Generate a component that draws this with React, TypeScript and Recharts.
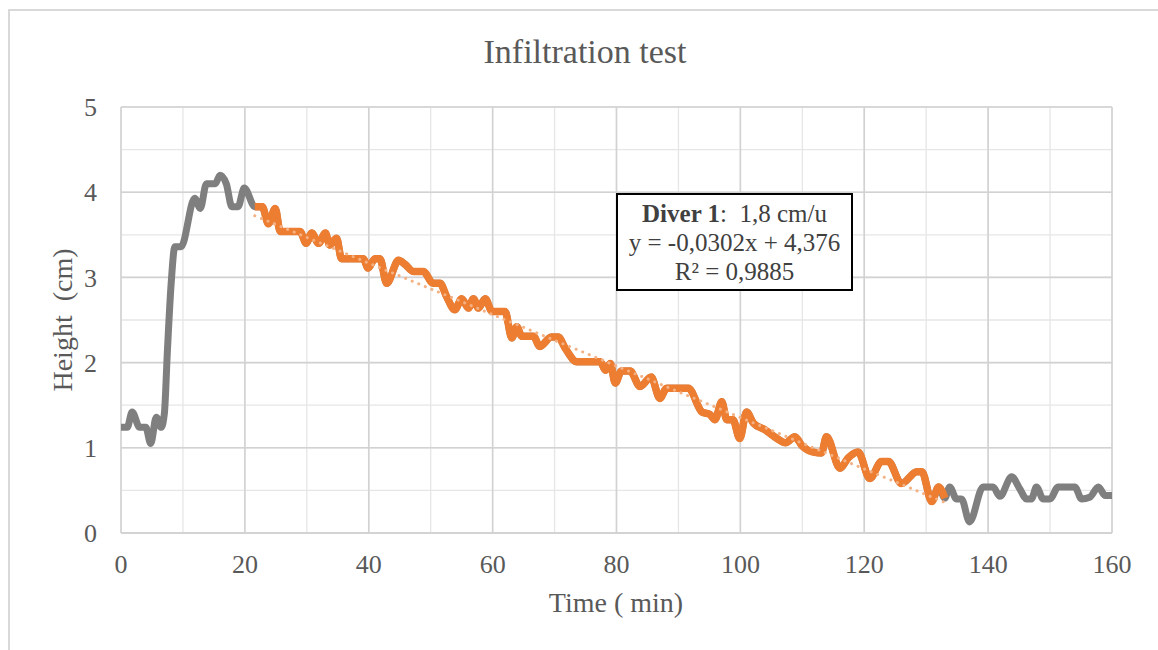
import React from "react";
import { LineChart, Line, XAxis, YAxis, CartesianGrid, ReferenceLine } from "recharts";

// Water level record of the diver (time in minutes, height in cm)
const timeMin = [
  0, 1, 1.8, 3, 4, 4.8, 5.7, 6.5, 7.0, 7.5, 8.1, 8.7, 9.7, 11.9, 12.8, 13.8, 15.2, 16, 17, 17.9, 18.9, 19.9,
  21.6, 22.8, 23.8, 24.9, 25.7, 28.9, 29.9, 30.8, 31.9, 33.0, 33.7, 34.8, 35.6, 39.1, 39.9, 41.0, 41.8, 42.9,
  44.8, 45.9, 47.2, 48.8, 50.4, 51.5, 52.6, 53.9, 55.0, 56.1, 56.9, 57.7, 58.8, 59.9, 62.0, 63.1, 63.9, 64.7,
  66.6, 67.6, 69.5, 70.6, 71.7, 73.6, 77.4, 78.2, 79.0, 79.8, 80.8, 82.2, 83.8, 85.6, 87.0, 88.1, 91.6, 93.8,
  95.1, 95.9, 97.0, 97.8, 98.8, 99.9, 101.0, 102.1, 104.0, 105.9, 107.3, 108.8, 110.0, 111.8, 113.1, 113.9,
  116.1, 117.4, 119.0, 120.9, 122.8, 123.9, 126.0, 128.5, 129.3, 130.9, 132.0, 133.0,
  133.8, 134.9, 135.7, 137.0, 139.2, 140.8, 141.9, 143.8, 145.1, 146.2, 147.0, 147.8, 148.9, 150.0, 151.3,
  154.0, 155.1, 156.4, 157.8, 158.9, 160,
];

const heightCm = [
  1.24, 1.24, 1.42, 1.24, 1.24, 1.05, 1.36, 1.24, 1.4, 2.15, 2.93, 3.36, 3.36, 3.93, 3.81, 4.1, 4.1, 4.2, 4.1, 3.83, 3.83, 4.05,
  3.83, 3.83, 3.63, 3.81, 3.54, 3.54, 3.4, 3.52, 3.4, 3.52, 3.38, 3.46, 3.22, 3.22, 3.11, 3.22, 3.22, 2.93,
  3.2, 3.15, 3.07, 3.07, 2.93, 2.93, 2.77, 2.62, 2.75, 2.64, 2.75, 2.64, 2.75, 2.6, 2.6, 2.29, 2.42, 2.31,
  2.31, 2.19, 2.3, 2.3, 2.17, 2.01, 2.01, 1.91, 1.99, 1.76, 1.9, 1.9, 1.72, 1.83, 1.58, 1.7, 1.7, 1.42,
  1.39, 1.33, 1.54, 1.33, 1.33, 1.11, 1.42, 1.29, 1.21, 1.11, 1.06, 1.13, 1.02, 0.95, 0.94, 1.13,
  0.76, 0.88, 0.95, 0.64, 0.84, 0.84, 0.58, 0.72, 0.72, 0.37, 0.54, 0.41,
  0.54, 0.4, 0.4, 0.13, 0.54, 0.54, 0.43, 0.66, 0.52, 0.4, 0.4, 0.54, 0.4, 0.4, 0.54,
  0.54, 0.4, 0.42, 0.54, 0.44, 0.44,
];

// Window used for the linear fit and its regression coefficients
const fitStart = 21.6;
const fitEnd = 133.0;
const trendSlope = -0.0302;
const trendIntercept = 4.376;

const xTicks = [0, 10, 20, 30, 40, 50, 60, 70, 80, 90, 100, 110, 120, 130, 140, 150, 160];
const xMajorTicks = [0, 20, 40, 60, 80, 100, 120, 140, 160];
const yTicks = [0, 0.5, 1, 1.5, 2, 2.5, 3, 3.5, 4, 4.5, 5];
const yMajorTicks = [0, 1, 2, 3, 4, 5];

const record = timeMin.map((t, i) => ({ t, h: heightCm[i] }));
const fitSegment = record.filter((p) => p.t >= fitStart && p.t <= fitEnd);
const trend = [fitStart, fitEnd].map((t) => ({ t, h: trendSlope * t + trendIntercept }));

const serif = "'Liberation Serif', 'Times New Roman', serif";
const textGray = "#595959";
const majorStroke = "#d2d2d2";

const xLabel = (v: number) => (xMajorTicks.includes(v) ? String(v) : "");
const yLabel = (v: number) => (yMajorTicks.includes(v) ? String(v) : "");

export default function App() {
  return (
    <div
      style={{
        position: "absolute",
        left: 0,
        top: 0,
        width: 1158,
        height: 650,
        background: "#fff",
        overflow: "hidden",
        fontFamily: serif,
      }}
    >
      <div
        style={{
          position: "absolute",
          left: 8,
          top: 9,
          width: 1170,
          height: 660,
          border: "2px solid #d9d9d9",
          boxSizing: "border-box",
        }}
      />
      <LineChart
        width={1158}
        height={650}
        margin={{ top: 107, right: 46, bottom: 57, left: 41 }}
        style={{ position: "absolute", left: 0, top: 0 }}
      >
        <CartesianGrid stroke="#e6e6e6" strokeWidth={1.3} />
        <XAxis
          type="number"
          dataKey="t"
          domain={[0, 160]}
          ticks={xTicks}
          interval={0}
          tickFormatter={xLabel}
          height={60}
          tickLine={false}
          tickMargin={16}
          axisLine={{ stroke: majorStroke, strokeWidth: 1.6 }}
          tick={{ fill: textGray, fontSize: 26, fontFamily: serif }}
          allowDataOverflow
        />
        <YAxis
          type="number"
          domain={[0, 5]}
          ticks={yTicks}
          interval={0}
          tickFormatter={yLabel}
          width={80}
          tickLine={false}
          axisLine={false}
          tickMargin={18}
          tick={{ fill: textGray, fontSize: 26, fontFamily: serif }}
        />
        {xMajorTicks.map((v) => (
          <ReferenceLine key={"x" + v} x={v} stroke={majorStroke} strokeWidth={1.6} />
        ))}
        {yMajorTicks.map((v) => (
          <ReferenceLine key={"y" + v} y={v} stroke={majorStroke} strokeWidth={1.6} />
        ))}
        <Line
          data={record}
          dataKey="h"
          type="monotone"
          stroke="#7f7f7f"
          strokeWidth={7}
          strokeLinejoin="round"
          strokeLinecap="round"
          dot={false}
          activeDot={false}
          isAnimationActive={false}
        />
        <Line
          data={fitSegment}
          dataKey="h"
          type="monotone"
          stroke="#ed7d31"
          strokeWidth={7.5}
          strokeLinejoin="round"
          dot={false}
          activeDot={false}
          isAnimationActive={false}
        />
        <Line
          data={trend}
          dataKey="h"
          type="linear"
          stroke="#f4b183"
          strokeWidth={3}
          strokeDasharray="0.1 7"
          strokeLinecap="round"
          dot={false}
          activeDot={false}
          isAnimationActive={false}
        />
      </LineChart>

      <div
        style={{
          position: "absolute",
          left: 585,
          top: 35,
          transform: "translateX(-50%)",
          fontSize: 34,
          lineHeight: 1,
          color: textGray,
          whiteSpace: "nowrap",
        }}
      >
        Infiltration test
      </div>

      <div
        style={{
          position: "absolute",
          left: 616,
          top: 589,
          transform: "translateX(-50%)",
          fontSize: 28,
          lineHeight: 1,
          color: textGray,
          whiteSpace: "pre",
        }}
      >
        Time ( min)
      </div>

      <div
        style={{
          position: "absolute",
          left: 63,
          top: 320,
          transform: "translate(-50%, -50%) rotate(-90deg)",
          fontSize: 28,
          lineHeight: 1,
          color: textGray,
          whiteSpace: "pre",
        }}
      >
        Height  (cm)
      </div>

      <div
        style={{
          position: "absolute",
          left: 616,
          top: 193,
          width: 237,
          height: 98,
          boxSizing: "border-box",
          border: "2px solid #000",
          background: "#fff",
          paddingTop: 4,
          textAlign: "center",
          fontSize: 25,
          lineHeight: "29px",
          color: "#404040",
          whiteSpace: "pre",
        }}
      >
        <div>
          <b>Diver 1</b>:  1,8 cm/u
        </div>
        <div>y = -0,0302x + 4,376</div>
        <div>R² = 0,9885</div>
      </div>
    </div>
  );
}
